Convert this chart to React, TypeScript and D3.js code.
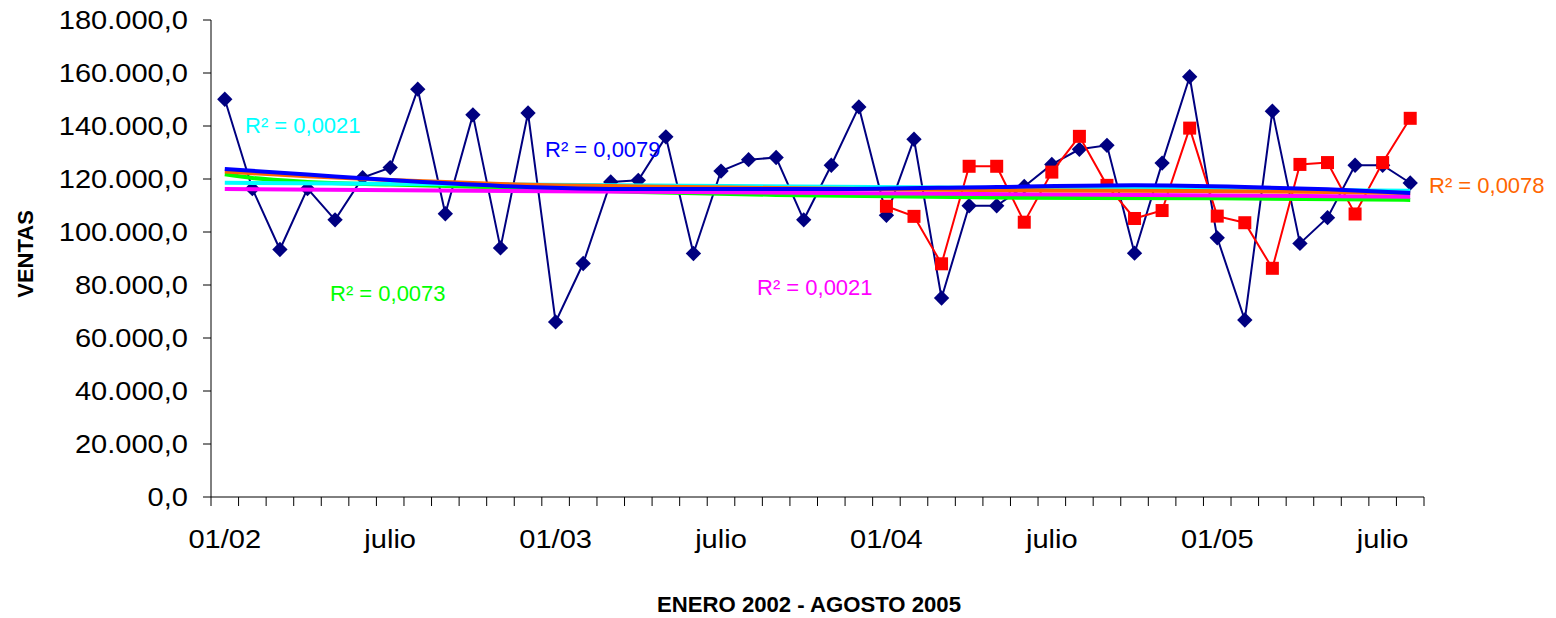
import React from "react";
import * as d3 from "d3";

// 44 months: Jan 2002 – Aug 2005
const months: string[] = [
  "01/02","02/02","03/02","04/02","05/02","06/02","07/02","08/02","09/02","10/02","11/02","12/02",
  "01/03","02/03","03/03","04/03","05/03","06/03","07/03","08/03","09/03","10/03","11/03","12/03",
  "01/04","02/04","03/04","04/04","05/04","06/04","07/04","08/04","09/04","10/04","11/04","12/04",
  "01/05","02/05","03/05","04/05","05/05","06/05","07/05","08/05",
];
const xTickIndex = [0, 6, 12, 18, 24, 30, 36, 42];
const xTickText = ["01/02", "julio", "01/03", "julio", "01/04", "julio", "01/05", "julio"];
const yTicks = [0, 20000, 40000, 60000, 80000, 100000, 120000, 140000, 160000, 180000];

const ventas: number[] = [
  150100, 116350, 93400, 116350, 104600, 120500, 124300, 153900, 106900, 144200, 94000, 144900,
  66060, 88100, 118900, 119500, 135900, 91900, 123000, 127300, 128100, 104600, 125200, 147200,
  106300, 135000, 75100, 109900, 109900, 117200, 125500, 131200, 132700, 92000, 126000, 158600,
  97800, 66800, 145600, 95700, 105400, 125200, 125200, 118500,
];
const pronostico: (number | null)[] = [
  null, null, null, null, null, null, null, null, null, null, null, null,
  null, null, null, null, null, null, null, null, null, null, null, null,
  109700, 105900, 88000, 124800, 124800, 103700, 122600, 136100, 117600, 105100, 108100, 139200,
  106000, 103500, 86300, 125500, 126200, 106800, 126200, 142900,
];

// trend lines: [category index, value]
const trendGreen: [number, number][] = [
  [0, 121800], [1, 120400], [3, 118900], [6, 117900], [10, 116800], [15, 115100],
  [20, 114000], [28, 113000], [36, 112700], [43, 112100],
];
const trendCyan: [number, number][] = [[0, 118600], [43, 115600]];
const trendOrange: [number, number][] = [
  [0, 122800], [3, 121000], [6, 119600], [10, 118100], [15, 117200], [20, 116600],
  [25, 116000], [30, 115700], [35, 115500], [40, 115100], [43, 114700],
];
const trendMagenta: [number, number][] = [[0, 116200], [43, 113300]];
const trendBlue: [number, number][] = [
  [0, 123800], [3, 121700], [6, 119600], [10, 117400], [15, 116200], [22, 116200],
  [28, 117000], [33, 117600], [37, 117000], [40, 116100], [43, 114700],
];

const r2Texts = ["R² = 0,0021", "R² = 0,0079", "R² = 0,0073", "R² = 0,0021", "R² = 0,0078"];

const W = 1556;
const H = 618;
const left = 211;
const right = 1424;
const top = 20;
const bottom = 497;
const FONT = "'Liberation Sans', Arial, sans-serif";

const x = d3.scaleBand<number>().domain(d3.range(months.length)).range([left, right]).padding(0);
const cx = (i: number) => (x(Math.floor(i)) as number) + x.bandwidth() / 2 + (i - Math.floor(i)) * x.bandwidth();
const y = d3.scaleLinear().domain([0, 180000]).range([bottom, top]);

const locale = d3.formatLocale({ decimal: ",", thousands: ".", grouping: [3], currency: ["", ""] });
const fmt = locale.format(",.1f");

export default function App() {
  const seriesLine = d3
    .line<number | null>()
    .defined((d) => d !== null)
    .x((_, i) => cx(i))
    .y((d) => y(d as number));
  const trendLine = d3
    .line<[number, number]>()
    .x((d) => cx(d[0]))
    .y((d) => y(d[1]))
    .curve(d3.curveMonotoneX);

  const boundaries = d3.range(months.length + 1).map((k) => left + k * x.bandwidth());
  const diamond = d3.symbol().type(d3.symbolDiamond2).size(150)();

  const trends: { data: [number, number][]; color: string }[] = [
    { data: trendGreen, color: "#00FF00" },
    { data: trendCyan, color: "#00FFFF" },
    { data: trendMagenta, color: "#FF00FF" },
    { data: trendOrange, color: "#FF6600" },
    { data: trendBlue, color: "#0000FF" },
  ];

  const r2Layout = [
    { x: 245, y: 133, color: "#00FFFF" },
    { x: 545, y: 157, color: "#0000FF" },
    { x: 330, y: 301, color: "#00FF00" },
    { x: 757, y: 295, color: "#FF00FF" },
    { x: 1429, y: 193, color: "#FF6600" },
  ];

  return (
    <div style={{ position: "absolute", left: 0, top: 0 }}>
      <svg width={W} height={H} style={{ display: "block", background: "#fff" }} fontFamily={FONT}>
        {/* axes */}
        <line x1={left} x2={left} y1={top} y2={bottom} stroke="#000" strokeWidth={1} />
        <line x1={left} x2={right} y1={bottom} y2={bottom} stroke="#000" strokeWidth={1} />
        {yTicks.map((t) => (
          <g key={t}>
            <line x1={left - 8} x2={left} y1={y(t)} y2={y(t)} stroke="#000" />
            <text
              transform={`translate(188,${y(t)}) scale(1.14,1)`}
              textAnchor="end"
              dominantBaseline="central"
              fontSize={25.5}
              fill="#000"
            >
              {fmt(t)}
            </text>
          </g>
        ))}
        {boundaries.map((bx, k) => (
          <line key={k} x1={bx} x2={bx} y1={bottom} y2={bottom + 9} stroke="#000" />
        ))}
        {xTickIndex.map((idx, k) => (
          <text
            key={k}
            transform={`translate(${cx(idx)},548) scale(1.14,1)`}
            textAnchor="middle"
            fontSize={25.5}
            fill="#000"
          >
            {xTickText[k]}
          </text>
        ))}
        <text
          transform={`translate(33,254) rotate(-90)`}
          textAnchor="middle"
          fontSize={22}
          fontWeight="bold"
          fill="#000"
        >
          VENTAS
        </text>
        <text
          x={657}
          y={612}
          fontSize={22.5}
          fontWeight="bold"
          fill="#000"
          textLength={304}
          lengthAdjust="spacingAndGlyphs"
        >
          ENERO 2002 - AGOSTO 2005
        </text>

        {/* series */}
        <path d={seriesLine(ventas) || ""} fill="none" stroke="#000080" strokeWidth={2} />
        {ventas.map((v, i) => (
          <path key={i} d={diamond || ""} transform={`translate(${cx(i)},${y(v)})`} fill="#000080" />
        ))}
        <path d={seriesLine(pronostico) || ""} fill="none" stroke="#FF0000" strokeWidth={2} />
        {pronostico.map((v, i) =>
          v === null ? null : (
            <rect key={i} x={cx(i) - 6.5} y={y(v) - 6.5} width={13} height={13} fill="#FF0000" />
          )
        )}

        {/* trend lines */}
        {trends.map((t, k) => (
          <path key={k} d={trendLine(t.data) || ""} fill="none" stroke={t.color} strokeWidth={4} />
        ))}

        {r2Texts.map((s, k) => (
          <text key={k} x={r2Layout[k].x} y={r2Layout[k].y} fontSize={22} fill={r2Layout[k].color}>
            {s}
          </text>
        ))}
      </svg>
    </div>
  );
}
